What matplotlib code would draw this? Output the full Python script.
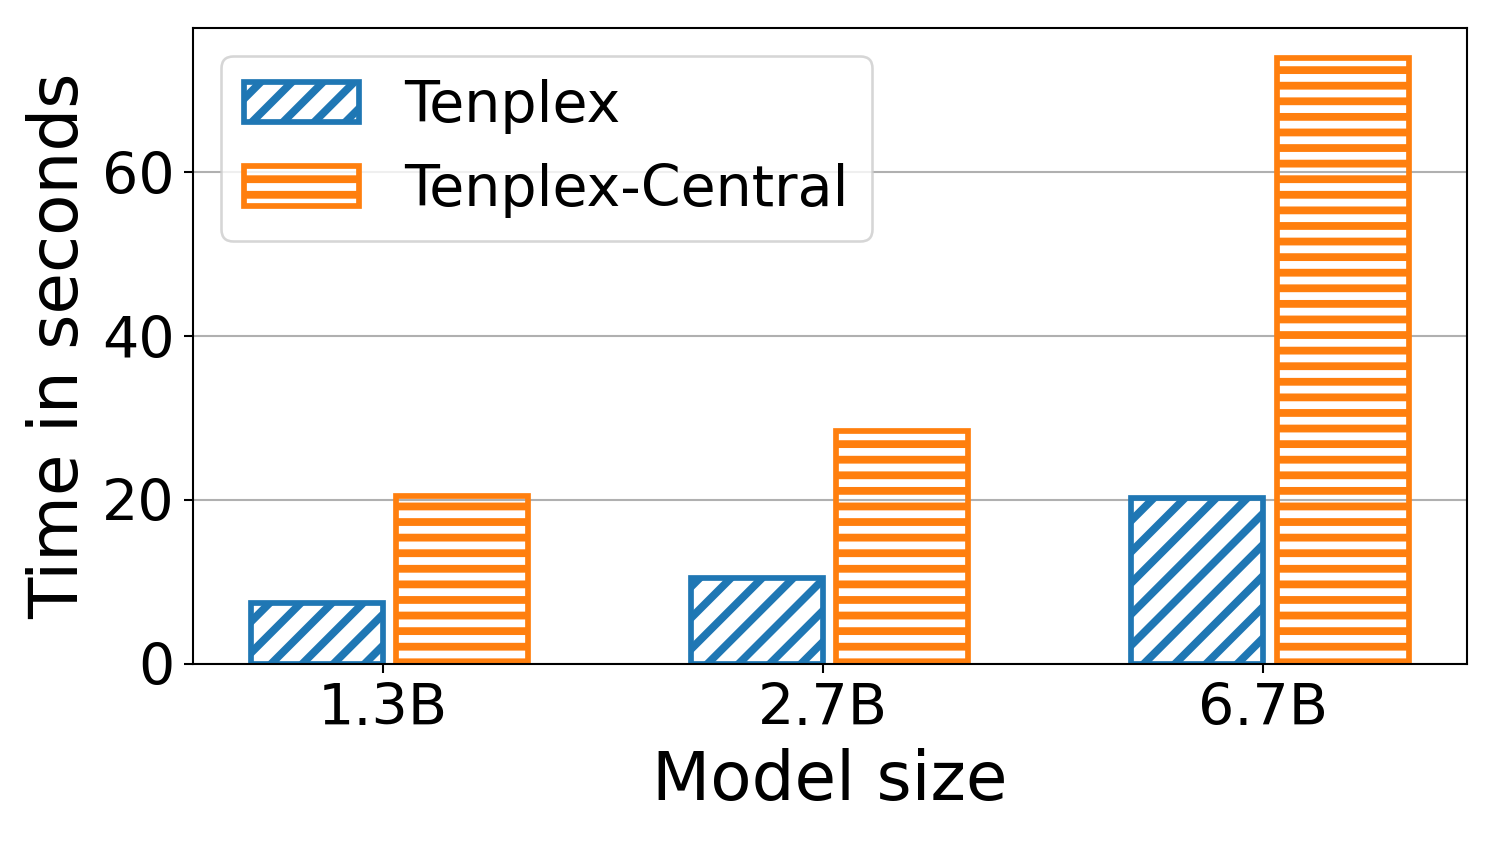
import numpy as np
import matplotlib
matplotlib.use('Agg')
import matplotlib.pyplot as plt

model_sizes = ['1.3B', '2.7B', '6.7B']
tenplex = [7.4, 10.5, 20.2]
tenplex_central = [20.5, 28.4, 73.9]

plt.rcParams['hatch.linewidth'] = 3

dpi = 187
fig, ax = plt.subplots(figsize=(1495 / dpi, 841 / dpi), dpi=dpi)
fig.subplots_adjust(left=0.129, right=0.981, top=0.967, bottom=0.2105)

x = np.arange(len(model_sizes))
width = 0.3
ax.bar(x - 0.15, tenplex, width, fill=False, edgecolor='tab:blue', hatch='//',
       linewidth=2.2, label='Tenplex')
ax.bar(x + 0.18, tenplex_central, width, fill=False, edgecolor='tab:orange', hatch='--',
       linewidth=2.2, label='Tenplex-Central')

ax.set_axisbelow(True)
ax.grid(axis='y')
ax.set_xticks(x)
ax.set_xticklabels(model_sizes)
ax.set_yticks([0, 20, 40, 60])
ax.tick_params(axis='both', labelsize=22)
ax.set_xlabel('Model size', fontsize=26)
ax.set_ylabel('Time in seconds', fontsize=26)
ax.legend(loc='upper left', fontsize=22)

fig.savefig('out.png', dpi=dpi)
